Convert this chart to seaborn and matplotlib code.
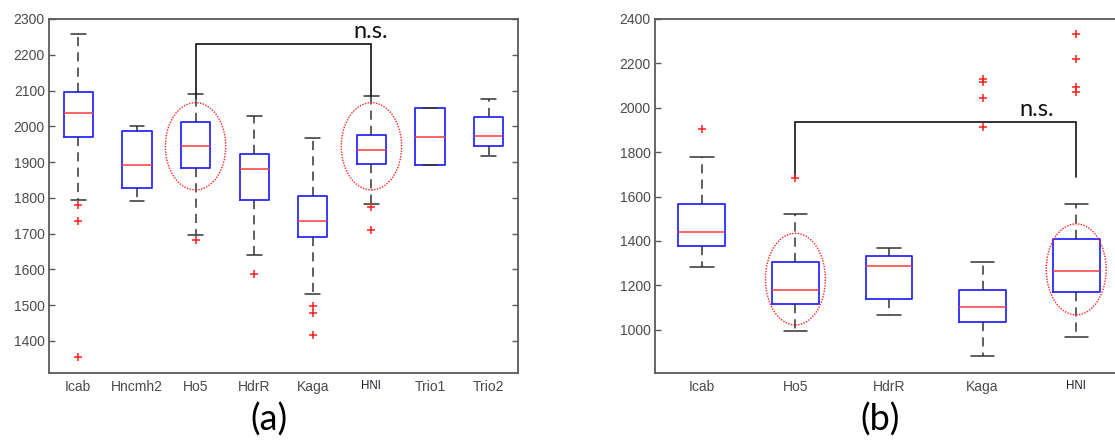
import matplotlib
matplotlib.use("Agg")
import matplotlib.pyplot as plt
from matplotlib.patches import Ellipse
import seaborn as sns
import pandas as pd

# ---------------- data ----------------
left_groups = ["Icab", "Hncmh2", "Ho5", "HdrR", "Kaga", "HNI", "Trio1", "Trio2"]
left_whislo = [1793, 1791, 1695, 1641, 1532, 1782, 1893, 1918]
left_q1 = [1970, 1826, 1883, 1794, 1689, 1895, 1893, 1946]
left_med = [2038, 1891, 1944, 1880, 1735, 1933, 1971, 1973]
left_q3 = [2096, 1986, 2012, 1923, 1806, 1975, 2050, 2026]
left_whishi = [2258, 2001, 2089, 2029, 1968, 2084, 2050, 2077]
left_fliers = [[1779, 1735, 1354], [], [1683], [1588], [1497, 1478, 1417],
               [1773, 1711], [], []]
left_yticks = [1400, 1500, 1600, 1700, 1800, 1900, 2000, 2100, 2200, 2300]

right_groups = ["Icab", "Ho5", "HdrR", "Kaga", "HNI"]
right_whislo = [1282, 992, 1066, 881, 968]
right_q1 = [1378, 1115, 1139, 1036, 1171]
right_med = [1440, 1178, 1289, 1102, 1265]
right_q3 = [1566, 1307, 1333, 1178, 1408]
right_whishi = [1779, 1521, 1370, 1304, 1567]
right_fliers = [[1903], [1683], [], [2131, 2115, 2043, 1912],
                [2331, 2220, 2095, 2073]]
right_yticks = [1000, 1200, 1400, 1600, 1800, 2000, 2200, 2400]

# ---------------- style ----------------
sns.set_style("white")
plt.rcParams["font.family"] = ["Liberation Sans", "DejaVu Sans"]

SPINE = "#5a5a5a"
TXT = "#4a4a4a"

fig = plt.figure(figsize=(11.15, 4.43), dpi=100)
axL = fig.add_axes([49 / 1115, 1 - 373 / 443, 469 / 1115, 354 / 443])
axR = fig.add_axes([655 / 1115, 1 - 373 / 443, 468 / 1115, 354 / 443])


def draw_panel(ax, groups, wlo, q1, med, q3, whi, fliers, ylim, yticks):
    stats = []
    for i, g in enumerate(groups):
        stats.append(dict(label=g, whislo=wlo[i], q1=q1[i], med=med[i],
                          q3=q3[i], whishi=whi[i], fliers=[]))
    pos = list(range(1, len(groups) + 1))
    ax.bxp(stats, positions=pos, widths=0.5, showfliers=False,
           boxprops=dict(color="#2a2aff", linewidth=1.3),
           medianprops=dict(color="#ff3a3a", linewidth=1.1),
           whiskerprops=dict(color="#333333", linewidth=1.1,
                             linestyle=(0, (6, 4))),
           capprops=dict(color="#333333", linewidth=1.1),
           capwidths=0.25)
    rows = [(p, v) for p, fl in zip(pos, fliers) for v in fl]
    df = pd.DataFrame(rows, columns=["pos", "value"])
    sns.scatterplot(data=df, x="pos", y="value", marker="+", color="#ff2020",
                    s=40, linewidth=1.1, ax=ax, zorder=4, legend=False)
    ax.set_xlim(0.5, len(groups) + 0.5)
    ax.set_ylim(*ylim)
    ax.set_yticks(yticks)
    ax.set_xticks(pos)
    ax.set_xticklabels(groups)
    ax.set_xlabel("")
    ax.set_ylabel("")
    for s in ax.spines.values():
        s.set_visible(True)
        s.set_color(SPINE)
        s.set_linewidth(1.3)
    ax.tick_params(axis="y", direction="in", length=4, width=1, color=SPINE,
                   left=True, right=True, labelsize=10, labelcolor=TXT, pad=3)
    ax.tick_params(axis="x", length=0, labelsize=10, labelcolor=TXT, pad=5)
    for lab in ax.get_xticklabels():
        if lab.get_text() == "HNI":
            lab.set_fontsize(8.3)
            lab.set_color("#1a1a2a")
    return pos


draw_panel(axL, left_groups, left_whislo, left_q1, left_med, left_q3,
           left_whishi, left_fliers, (1310, 2300), left_yticks)
draw_panel(axR, right_groups, right_whislo, right_q1, right_med, right_q3,
           right_whishi, right_fliers, (805, 2400), right_yticks)

# significance brackets
axL.plot([3, 3, 6, 6], [2078, 2230, 2230, 2085], color="#111111", lw=1.2,
         solid_joinstyle="miter")
axL.text(5.98, 2247, "n.s.", ha="center", va="baseline", fontsize=17,
         family=["Lato", "DejaVu Sans"], color="#111111")
axR.plot([2, 2, 5, 5], [1688, 1935, 1935, 1688], color="#111111", lw=1.2,
         solid_joinstyle="miter")
axR.text(4.58, 1962, "n.s.", ha="center", va="baseline", fontsize=17,
         family=["Lato", "DejaVu Sans"], color="#111111")

# highlighted groups (dotted ellipses)
for x in (3, 6):
    axL.add_patch(Ellipse((x, 1944), width=1.03, height=244, fill=False,
                          edgecolor="#ff2020", linestyle=(0, (1, 1)), lw=1.0,
                          zorder=5))
axR.add_patch(Ellipse((2, 1228), width=0.64, height=413, fill=False,
                      edgecolor="#ff2020", linestyle=(0, (1, 1)), lw=1.0,
                      zorder=5))
axR.add_patch(Ellipse((5, 1272), width=0.64, height=410, fill=False,
                      edgecolor="#ff2020", linestyle=(0, (1, 1)), lw=1.0,
                      zorder=5))

# panel labels
fig.text(269 / 1115, 1 - 420 / 443, "(a)", ha="center", va="center",
         fontsize=26, family=["Lato", "DejaVu Sans"], color="black")
fig.text(880 / 1115, 1 - 420 / 443, "(b)", ha="center", va="center",
         fontsize=26, family=["Lato", "DejaVu Sans"], color="black")

fig.savefig("out.png", dpi=100)
